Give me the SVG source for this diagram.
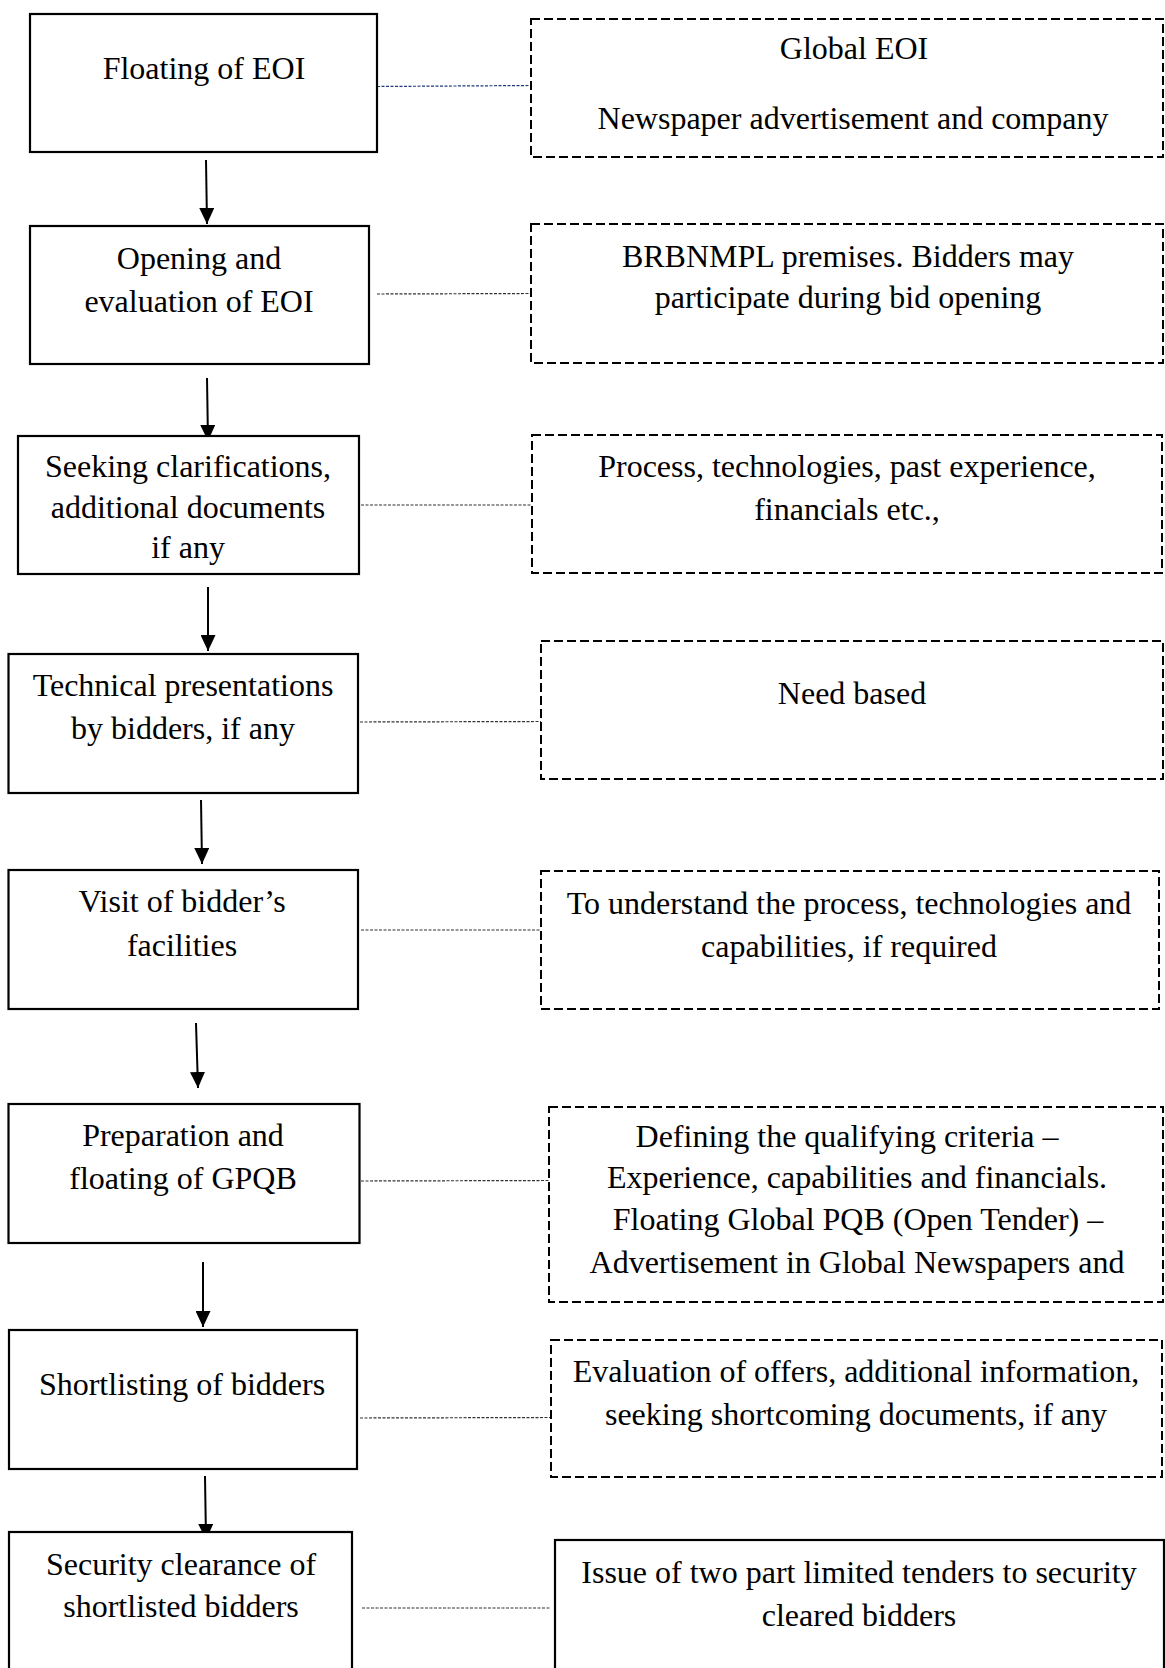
<svg xmlns="http://www.w3.org/2000/svg" width="1165" height="1668" viewBox="0 0 1165 1668">
<defs>
<style>
.box{fill:#fff;stroke:#000;stroke-width:2.2}
.dbox{fill:#fff;stroke:#000;stroke-width:2;stroke-dasharray:9 4}
.t{font-family:"Liberation Serif","Times New Roman",serif;font-size:32px;fill:#000;text-anchor:middle}
.arr{stroke:#000;stroke-width:2;fill:none}
.con{stroke:#333;stroke-width:1.2;stroke-dasharray:3 1.5;fill:none}
.con1{stroke:#1f3a7a;stroke-width:1.2;stroke-dasharray:3 1.5;fill:none}
</style>
<marker id="ah" viewBox="0 0 16 15" refX="16" refY="7.5" markerWidth="16" markerHeight="15" markerUnits="userSpaceOnUse" orient="auto">
<path d="M0,0 L16,7.5 L0,15 Z" fill="#000"/>
</marker>
</defs>
<rect width="1165" height="1668" fill="#fff"/>

<g id="connectors">
<line class="arr" x1="206" y1="160" x2="207" y2="224" marker-end="url(#ah)"/>
<line class="arr" x1="207" y1="378" x2="208" y2="441" marker-end="url(#ah)"/>
<line class="arr" x1="208" y1="587" x2="208" y2="651" marker-end="url(#ah)"/>
<line class="arr" x1="201" y1="800" x2="202" y2="864" marker-end="url(#ah)"/>
<line class="arr" x1="196" y1="1023" x2="198" y2="1088" marker-end="url(#ah)"/>
<line class="arr" x1="203" y1="1262" x2="203" y2="1327" marker-end="url(#ah)"/>
<line class="arr" x1="205" y1="1476" x2="206" y2="1540" marker-end="url(#ah)"/>
<line class="con1" x1="377" y1="86.5" x2="531" y2="85.5"/>
<line class="con" x1="377" y1="294" x2="531" y2="293.5"/>
<line class="con" x1="361" y1="505" x2="532" y2="505"/>
<line class="con" x1="360" y1="722" x2="541" y2="721.5"/>
<line class="con" x1="361" y1="930" x2="541" y2="930"/>
<line class="con" x1="361" y1="1181" x2="549" y2="1180.5"/>
<line class="con" x1="360" y1="1418" x2="550" y2="1417.5"/>
<line class="con" x1="362" y1="1608" x2="551" y2="1608"/>
</g>

<g id="n1">
<rect class="box" x="30" y="14" width="347" height="138"/>
<text class="t" x="204" y="79">Floating of EOI</text>
</g>
<g id="n2">
<rect class="box" x="30" y="226" width="339" height="138"/>
<text class="t" x="199" y="269">Opening and</text>
<text class="t" x="199" y="312">evaluation of EOI</text>
</g>
<g id="n3">
<rect class="box" x="18" y="436" width="341" height="138"/>
<text class="t" x="188" y="477">Seeking clarifications,</text>
<text class="t" x="188" y="518">additional documents</text>
<text class="t" x="188" y="558">if any</text>
</g>
<g id="n4">
<rect class="box" x="8.5" y="654" width="349.5" height="139"/>
<text class="t" x="183" y="696">Technical presentations</text>
<text class="t" x="183" y="739">by bidders, if any</text>
</g>
<g id="n5">
<rect class="box" x="8.5" y="870" width="349.5" height="139"/>
<text class="t" x="182" y="912">Visit of bidder’s</text>
<text class="t" x="182" y="956">facilities</text>
</g>
<g id="n6">
<rect class="box" x="8.5" y="1104" width="351" height="139"/>
<text class="t" x="183" y="1146">Preparation and</text>
<text class="t" x="183" y="1189">floating of GPQB</text>
</g>
<g id="n7">
<rect class="box" x="9" y="1330" width="348" height="139"/>
<text class="t" x="182" y="1395">Shortlisting of bidders</text>
</g>
<g id="n8">
<rect class="box" x="9" y="1532" width="343" height="160"/>
<text class="t" x="181" y="1575">Security clearance of</text>
<text class="t" x="181" y="1617">shortlisted bidders</text>
</g>

<g id="r1">
<rect class="dbox" x="531" y="19" width="632" height="138"/>
<text class="t" x="854" y="59">Global EOI</text>
<text class="t" x="853" y="129">Newspaper advertisement and company</text>
</g>
<g id="r2">
<rect class="dbox" x="531" y="224" width="632" height="139"/>
<text class="t" x="848" y="267">BRBNMPL premises. Bidders may</text>
<text class="t" x="848" y="308">participate during bid opening</text>
</g>
<g id="r3">
<rect class="dbox" x="532" y="435" width="630" height="138"/>
<text class="t" x="847" y="477">Process, technologies, past experience,</text>
<text class="t" x="847" y="520">financials etc.,</text>
</g>
<g id="r4">
<rect class="dbox" x="541" y="641" width="622" height="138"/>
<text class="t" x="852" y="704">Need based</text>
</g>
<g id="r5">
<rect class="dbox" x="541" y="871" width="618" height="138"/>
<text class="t" x="849" y="914">To understand the process, technologies and</text>
<text class="t" x="849" y="957">capabilities, if required</text>
</g>
<g id="r6">
<rect class="dbox" x="549" y="1107" width="614" height="195"/>
<text class="t" x="847" y="1147">Defining the qualifying criteria –</text>
<text class="t" x="857" y="1188">Experience, capabilities and financials.</text>
<text class="t" x="858" y="1230">Floating Global PQB (Open Tender) –</text>
<text class="t" x="857" y="1273">Advertisement in Global Newspapers and</text>
</g>
<g id="r7">
<rect class="dbox" x="551" y="1340" width="611" height="137"/>
<text class="t" x="856" y="1382">Evaluation of offers, additional information,</text>
<text class="t" x="856" y="1425">seeking shortcoming documents, if any</text>
</g>
<g id="r8">
<rect class="box" x="555" y="1540" width="609" height="160"/>
<text class="t" x="859" y="1583">Issue of two part limited tenders to security</text>
<text class="t" x="859" y="1626">cleared bidders</text>
</g>
</svg>
